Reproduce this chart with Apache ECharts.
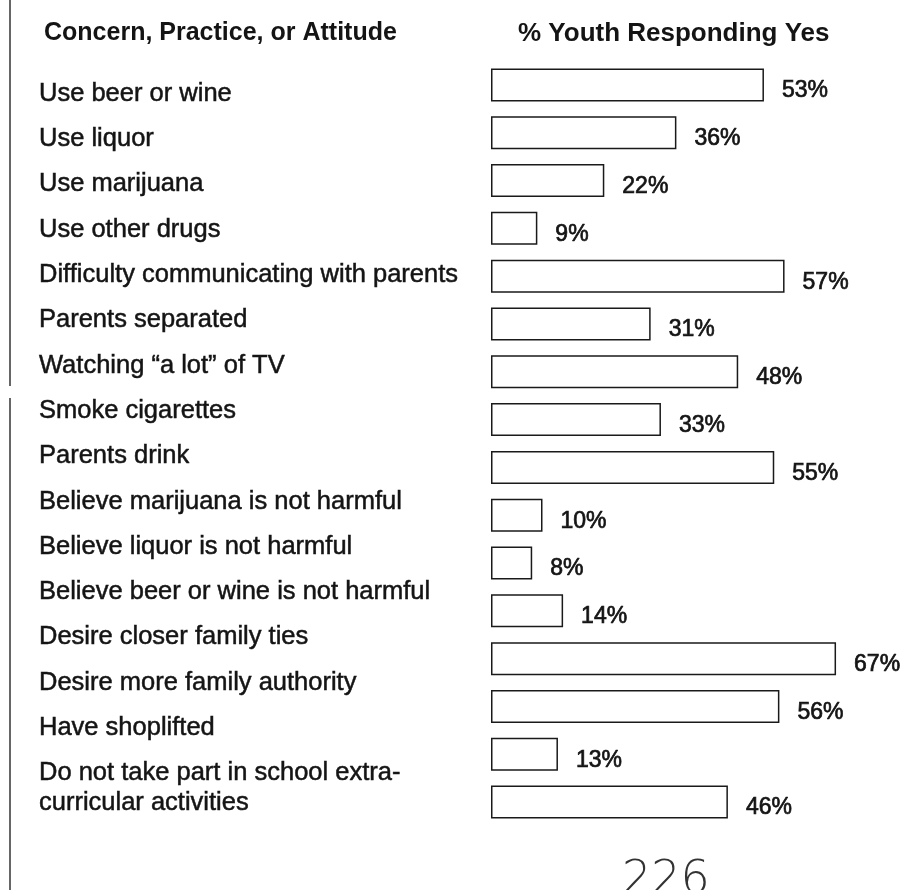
<!DOCTYPE html>
<html>
<head>
<meta charset="utf-8">
<script src="https://cdn.jsdelivr.net/npm/echarts@6/dist/echarts.min.js"></script>
<style>
  html, body { margin: 0; padding: 0; background: #fff; }
  #chart { width: 914px; height: 890px; }
</style>
</head>
<body>
<div id="chart"></div>
<script>
// concern / practice / attitude rows, top to bottom
const categories = [
  'Use beer or wine',
  'Use liquor',
  'Use marijuana',
  'Use other drugs',
  'Difficulty communicating with parents',
  'Parents separated',
  'Watching \u201ca lot\u201d of TV',
  'Smoke cigarettes',
  'Parents drink',
  'Believe marijuana is not harmful',
  'Believe liquor is not harmful',
  'Believe beer or wine is not harmful',
  'Desire closer family ties',
  'Desire more family authority',
  'Have shoplifted',
  ' \nDo not take part in school extra-\ncurricular activities'
]
const yesPercent = [53, 36, 22, 9, 57, 31, 48, 33, 55, 10, 8, 14, 67, 56, 13, 46]

const headerLeft = 'Concern, Practice, or Attitude'
const headerRight = '% Youth Responding Yes'
const pageNumber = '226'

const font = '"Liberation Sans", Arial, sans-serif'
const ink = '#141414'

const chart = echarts.init(document.getElementById('chart'))

chart.setOption({
  backgroundColor: '#fff',
  animation: false,
  title: [
    {
      text: headerLeft,
      left: 39, top: 16,
      textStyle: { fontFamily: font, fontSize: 25, fontWeight: 'bold', color: ink }
    },
    {
      text: headerRight,
      left: 513, top: 16,
      textStyle: { fontFamily: font, fontSize: 26, fontWeight: 'bold', color: ink }
    }
  ],
  grid: [
    // bars
    { left: 491, right: 11, top: 61, height: 765 },
    // row labels
    { left: 470, right: 11, top: 71, height: 725 }
  ],
  xAxis: [
    { gridIndex: 0, type: 'value', min: 0, max: 80, show: false },
    { gridIndex: 1, type: 'value', min: 0, max: 80, show: false }
  ],
  yAxis: [
    {
      gridIndex: 0, type: 'category', inverse: true, data: categories,
      axisLine: { show: false }, axisTick: { show: false }, axisLabel: { show: false }
    },
    {
      gridIndex: 1, type: 'category', inverse: true, data: categories,
      axisLine: { show: false }, axisTick: { show: false }, splitLine: { show: false },
      axisLabel: {
        interval: 0, hideOverlap: false,
        align: 'left', margin: 431,
        fontFamily: font, fontSize: 25.5, color: ink, lineHeight: 30,
        textBorderColor: ink, textBorderWidth: 0.5
      }
    }
  ],
  series: [
    {
      type: 'bar',
      xAxisIndex: 0, yAxisIndex: 0,
      data: yesPercent,
      barWidth: 33,
      itemStyle: { color: '#fff', borderColor: '#1a1a1a', borderWidth: 1.5 },
      label: {
        show: true, position: 'right', distance: 18, offset: [0, 6],
        formatter: p => p.value + '%',
        fontFamily: font, fontSize: 23, color: ink,
        textBorderColor: ink, textBorderWidth: 0.7
      }
    },
    { type: 'bar', xAxisIndex: 1, yAxisIndex: 1, data: [], silent: true }
  ],
  graphic: [
    // scanned page edge on the left
    { type: 'line', shape: { x1: 10, y1: 0, x2: 10, y2: 386 }, style: { stroke: '#333', lineWidth: 1.5 } },
    { type: 'line', shape: { x1: 10, y1: 398, x2: 10, y2: 890 }, style: { stroke: '#333', lineWidth: 1.5 } },
    {
      type: 'text', left: 622, top: 858,
      style: { text: pageNumber, fontFamily: '"DejaVu Sans", sans-serif', fontSize: 46, fontWeight: 200, fill: '#333' }
    }
  ]
})
</script>
</body>
</html>
